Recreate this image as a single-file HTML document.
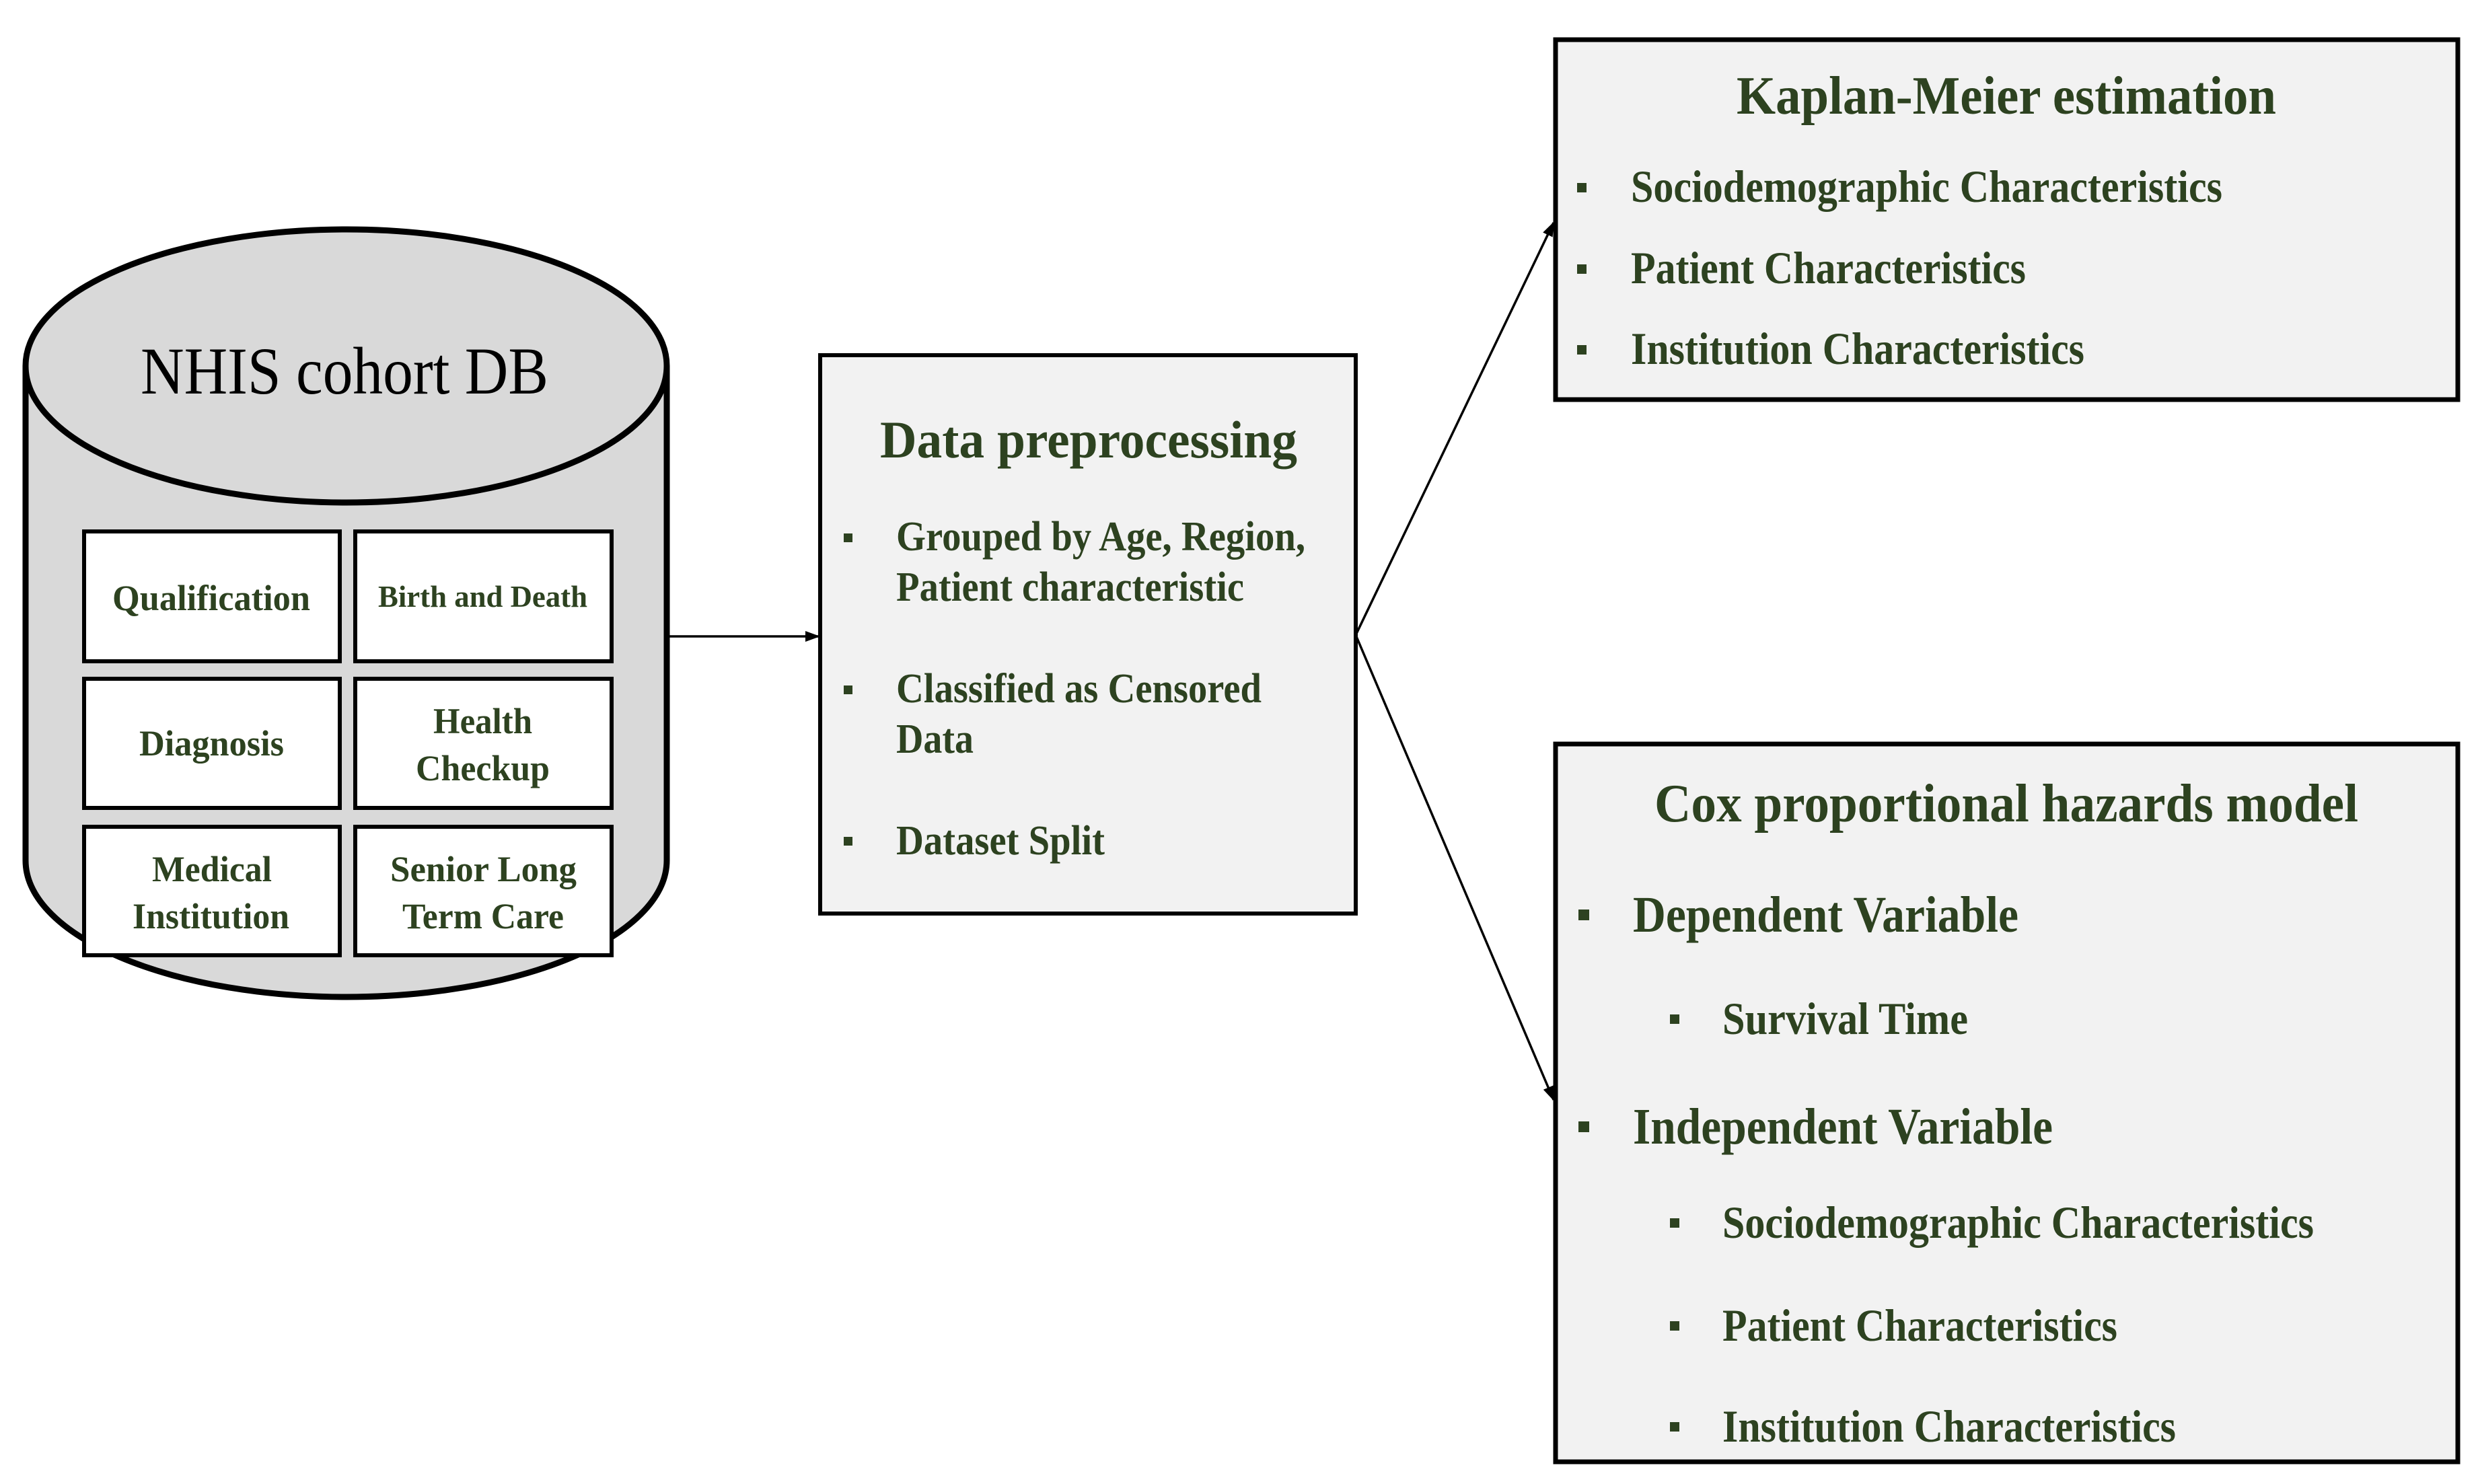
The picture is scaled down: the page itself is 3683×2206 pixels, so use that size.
<!DOCTYPE html>
<html><head><meta charset="utf-8"><style>
html,body{margin:0;padding:0;background:#fff;}
svg{display:block;}
text{font-family:"Liberation Serif",serif;}
.g{fill:#2d4220;font-weight:bold;}
</style></head><body>
<svg width="3683" height="2206" viewBox="0 0 3683 2206" xmlns="http://www.w3.org/2000/svg">
<defs>
<marker id="ah2" markerWidth="22" markerHeight="22" refX="20" refY="11" orient="auto" markerUnits="userSpaceOnUse">
<path d="M0,3 L22,11 L0,19 z" fill="#000"/>
</marker>
</defs>
<path d="M38,544 L38,1279 A476.5,203 0 0 0 991,1279 L991,544" fill="#d9d9d9" stroke="#000" stroke-width="9"/>
<ellipse cx="514.5" cy="544" rx="476.5" ry="203" fill="#d9d9d9" stroke="#000" stroke-width="9"/>
<text x="209" y="585" font-size="100" textLength="606" lengthAdjust="spacingAndGlyphs" fill="#000">NHIS cohort DB</text>
<g fill="#fff" stroke="#000" stroke-width="6">
<rect x="125" y="790" width="380" height="193"/>
<rect x="528" y="790" width="381" height="193"/>
<rect x="125" y="1009" width="380" height="192"/>
<rect x="528" y="1009" width="381" height="192"/>
<rect x="125" y="1229" width="380" height="191"/>
<rect x="528" y="1229" width="381" height="191"/>
</g>
<g class="g">
<text x="167" y="907" font-size="54" textLength="294" lengthAdjust="spacingAndGlyphs">Qualification</text>
<text x="562" y="902" font-size="46" textLength="311" lengthAdjust="spacingAndGlyphs">Birth and Death</text>
<text x="207" y="1123" font-size="54" textLength="215" lengthAdjust="spacingAndGlyphs">Diagnosis</text>
<text x="644" y="1090" font-size="54" textLength="147" lengthAdjust="spacingAndGlyphs">Health</text>
<text x="618" y="1160" font-size="54" textLength="199" lengthAdjust="spacingAndGlyphs">Checkup</text>
<text x="226" y="1310" font-size="54" textLength="178" lengthAdjust="spacingAndGlyphs">Medical</text>
<text x="197" y="1380" font-size="54" textLength="233" lengthAdjust="spacingAndGlyphs">Institution</text>
<text x="580" y="1310" font-size="54" textLength="277" lengthAdjust="spacingAndGlyphs">Senior Long</text>
<text x="598" y="1380" font-size="54" textLength="240" lengthAdjust="spacingAndGlyphs">Term Care</text>
</g>
<line x1="993" y1="946" x2="1217" y2="946" stroke="#000" stroke-width="3.5" marker-end="url(#ah2)"/>
<rect x="1219" y="528" width="796" height="830" fill="#f2f2f2" stroke="#000" stroke-width="6"/>
<g class="g">
<text x="1308" y="680" font-size="78" textLength="620" lengthAdjust="spacingAndGlyphs">Data preprocessing</text>
<rect x="1254" y="793" width="13" height="13"/>
<text x="1332" y="818" font-size="62" textLength="608" lengthAdjust="spacingAndGlyphs">Grouped by Age, Region,</text>
<text x="1332" y="893" font-size="62" textLength="517" lengthAdjust="spacingAndGlyphs">Patient characteristic</text>
<rect x="1254" y="1019" width="13" height="13"/>
<text x="1332" y="1044" font-size="62" textLength="543" lengthAdjust="spacingAndGlyphs">Classified as Censored</text>
<text x="1332" y="1119" font-size="62" textLength="115" lengthAdjust="spacingAndGlyphs">Data</text>
<rect x="1254" y="1244" width="13" height="13"/>
<text x="1332" y="1270" font-size="62" textLength="310" lengthAdjust="spacingAndGlyphs">Dataset Split</text>
</g>
<line x1="2015" y1="944" x2="2309" y2="331" stroke="#000" stroke-width="3.5" marker-end="url(#ah2)"/>
<line x1="2015" y1="944" x2="2309" y2="1635" stroke="#000" stroke-width="3.5" marker-end="url(#ah2)"/>
<rect x="2312" y="59" width="1341" height="535" fill="#f2f2f2" stroke="#000" stroke-width="7"/>
<g class="g">
<text x="2581" y="169" font-size="80" textLength="802" lengthAdjust="spacingAndGlyphs">Kaplan-Meier estimation</text>
<rect x="2344" y="272" width="14" height="14"/>
<text x="2424" y="300" font-size="68" textLength="879" lengthAdjust="spacingAndGlyphs">Sociodemographic Characteristics</text>
<rect x="2344" y="393" width="14" height="14"/>
<text x="2424" y="421" font-size="68" textLength="587" lengthAdjust="spacingAndGlyphs">Patient Characteristics</text>
<rect x="2344" y="513" width="14" height="14"/>
<text x="2424" y="541" font-size="68" textLength="674" lengthAdjust="spacingAndGlyphs">Institution Characteristics</text>
</g>
<rect x="2312" y="1106" width="1341" height="1067" fill="#f2f2f2" stroke="#000" stroke-width="7"/>
<g class="g">
<text x="2459" y="1221" font-size="80" textLength="1046" lengthAdjust="spacingAndGlyphs">Cox proportional hazards model</text>
<rect x="2346" y="1352" width="16" height="16"/>
<text x="2427" y="1385" font-size="76" textLength="573" lengthAdjust="spacingAndGlyphs">Dependent Variable</text>
<rect x="2482" y="1508" width="14" height="14"/>
<text x="2560" y="1537" font-size="68" textLength="365" lengthAdjust="spacingAndGlyphs">Survival Time</text>
<rect x="2346" y="1667" width="16" height="16"/>
<text x="2427" y="1700" font-size="76" textLength="624" lengthAdjust="spacingAndGlyphs">Independent Variable</text>
<rect x="2482" y="1811" width="14" height="14"/>
<text x="2560" y="1840" font-size="68" textLength="879" lengthAdjust="spacingAndGlyphs">Sociodemographic Characteristics</text>
<rect x="2482" y="1964" width="14" height="14"/>
<text x="2560" y="1993" font-size="68" textLength="587" lengthAdjust="spacingAndGlyphs">Patient Characteristics</text>
<rect x="2482" y="2114" width="14" height="14"/>
<text x="2560" y="2143" font-size="68" textLength="674" lengthAdjust="spacingAndGlyphs">Institution Characteristics</text>
</g>
</svg>
</body></html>
